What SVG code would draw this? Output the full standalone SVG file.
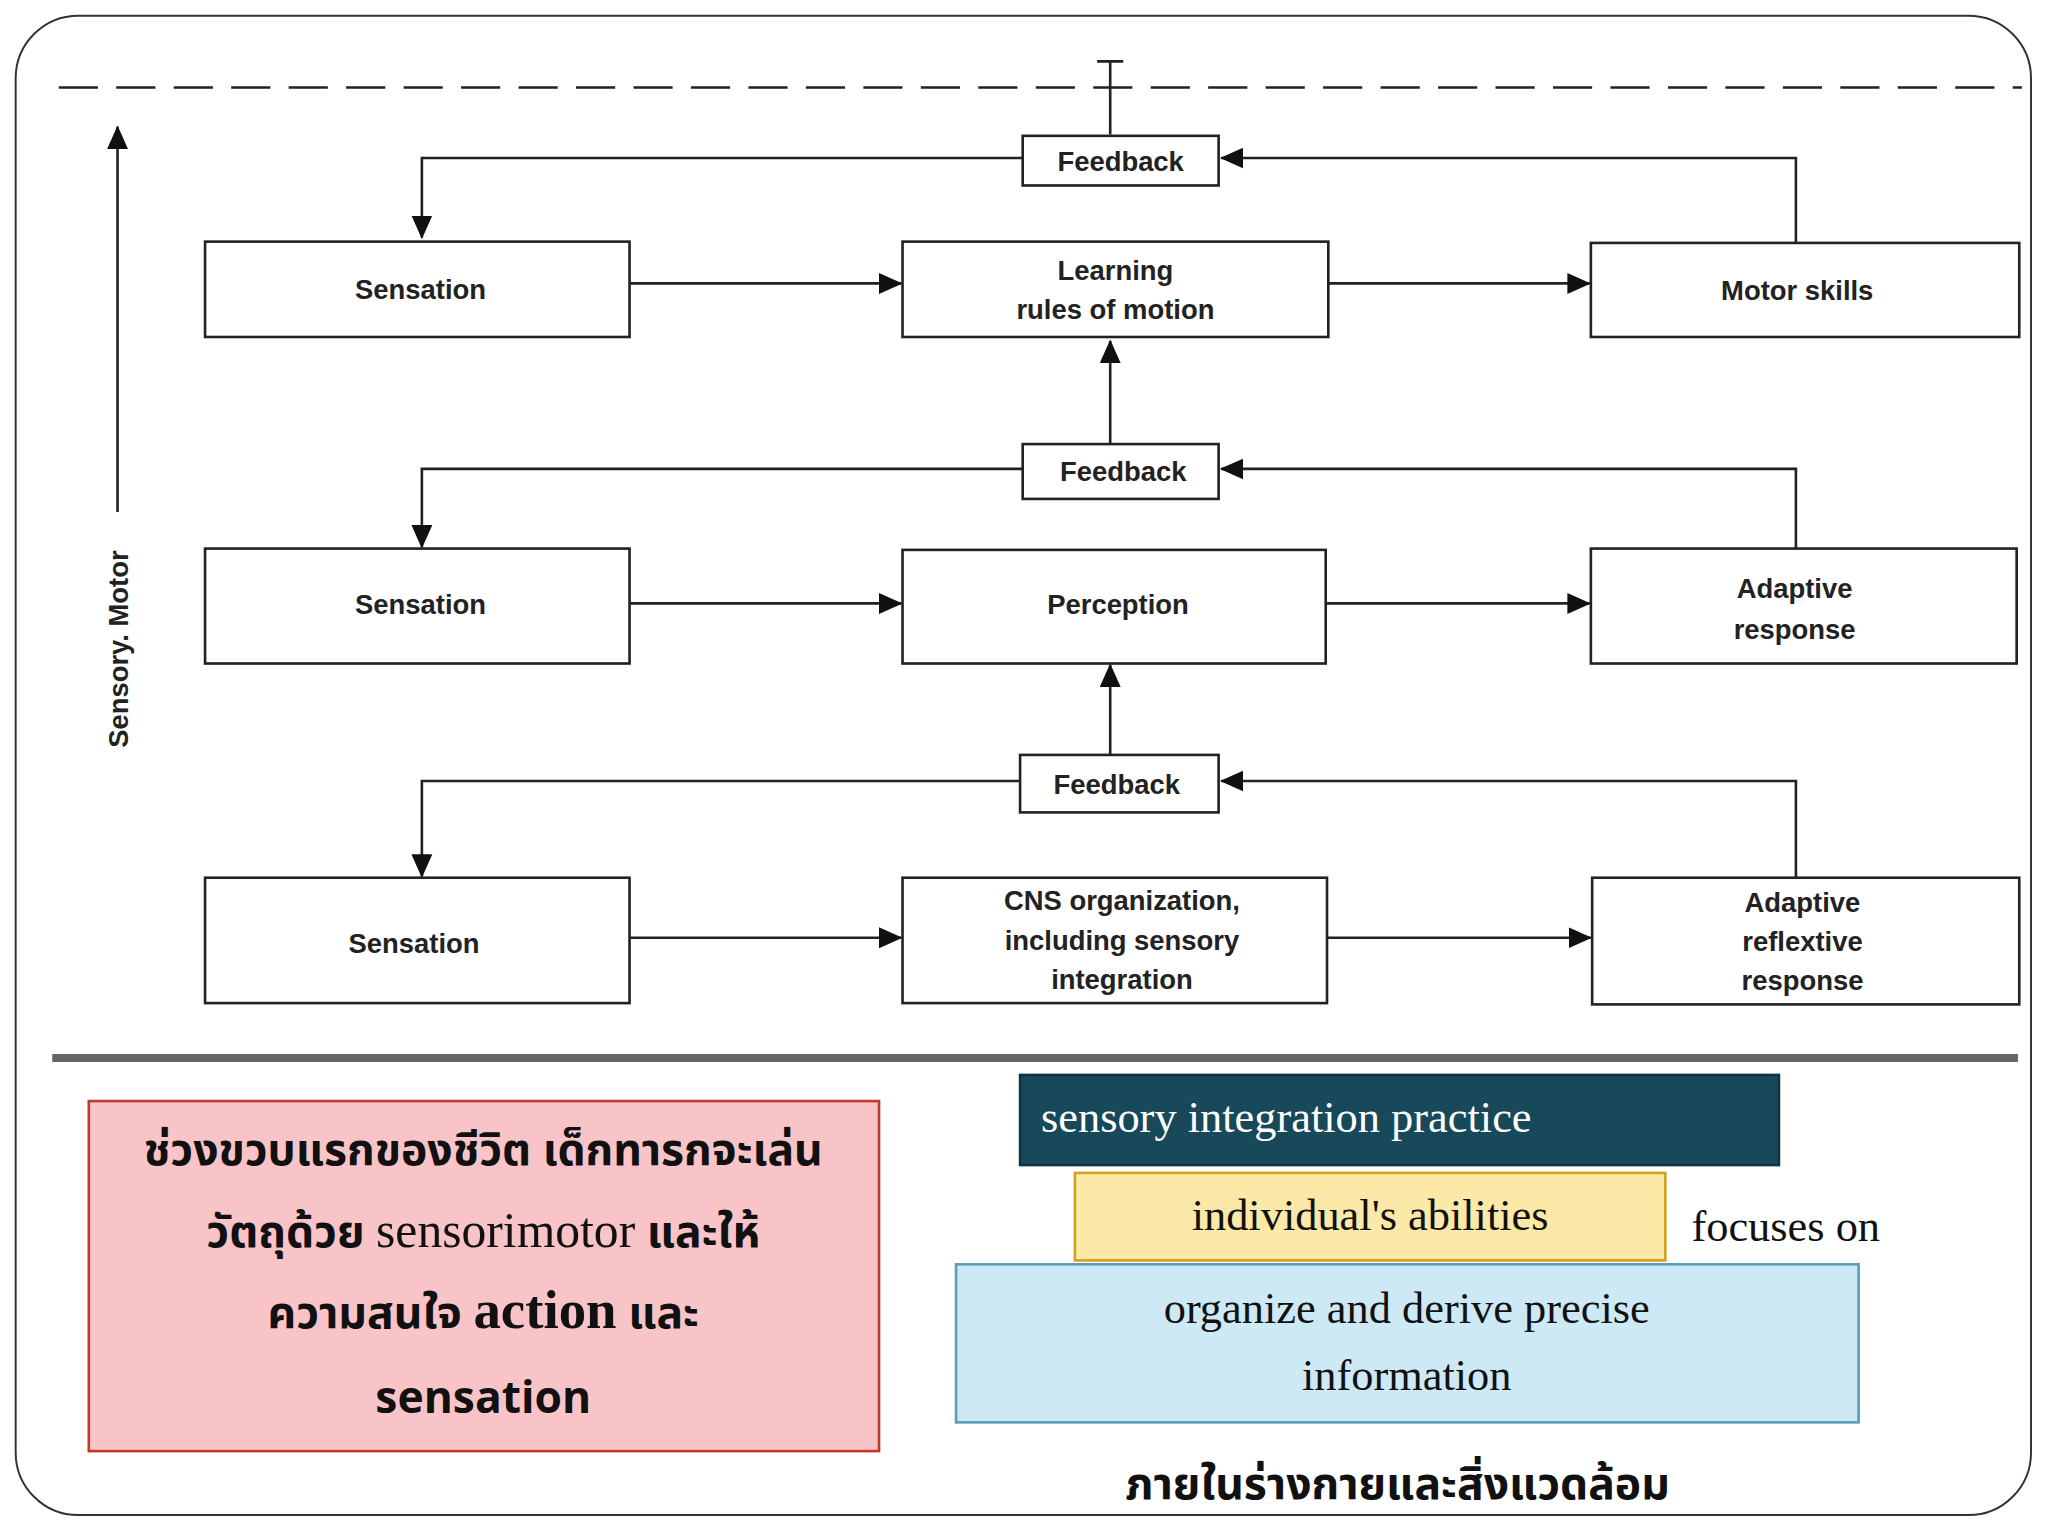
<svg xmlns="http://www.w3.org/2000/svg" width="2048" height="1536" viewBox="0 0 2048 1536">
<defs>
<marker id="ah" markerWidth="10" markerHeight="10" refX="9" refY="5" orient="auto" markerUnits="userSpaceOnUse"><path d="M0,0 L10,5 L0,10 z" fill="#111"/></marker>
<marker id="ah2" markerWidth="18" markerHeight="18" refX="17" refY="9" orient="auto" markerUnits="userSpaceOnUse"><path d="M0,1 L18,9 L0,17 z" fill="#111"/></marker>
<style>
.box{fill:#fff;stroke:#222;stroke-width:2}
.lbl{font-family:"Liberation Sans",Arial,sans-serif;font-weight:bold;font-size:21px;fill:#222;text-anchor:middle}
.c{fill:none;stroke:#222;stroke-width:2}
.ser{font-family:"Liberation Serif","Times New Roman",serif;font-size:34px;fill:#111}
.thai{font-family:"Noto Sans Thai","Noto Serif Thai","Loma","Garuda","Noto Sans",sans-serif;font-weight:bold;font-size:34px;fill:#111;text-anchor:middle}
</style>
</defs>
<rect width="2048" height="1536" fill="#fff"/>
<g transform="scale(1.30612)">
<rect x="12" y="12" width="1543" height="1148" rx="48" fill="none" stroke="#333" stroke-width="1.5"/>
<line x1="45" y1="67" x2="1548" y2="67" stroke="#222" stroke-width="2" stroke-dasharray="30,14"/>
<line x1="40" y1="810" x2="1545" y2="810" stroke="#666" stroke-width="6"/>
<g id="axis">
<line class="c" x1="90" y1="392" x2="90" y2="97" marker-end="url(#ah2)"/>
<text class="lbl" transform="translate(98,497) rotate(-90)">Sensory.  Motor</text>
</g>
<g id="connectors">
<path class="c" d="M850,103 V47 M840,47 H860"/>
<path class="c" d="M783,121 H323 V182" marker-end="url(#ah2)"/>
<path class="c" d="M1375,186 V121 H935" marker-end="url(#ah2)"/>
<path class="c" d="M783,359 H323 V419" marker-end="url(#ah2)"/>
<path class="c" d="M1375,420 V359 H935" marker-end="url(#ah2)"/>
<path class="c" d="M781,598 H323 V671" marker-end="url(#ah2)"/>
<path class="c" d="M1375,672 V598 H935" marker-end="url(#ah2)"/>
<path class="c" d="M850,340 V261" marker-end="url(#ah2)"/>
<path class="c" d="M850,578 V509" marker-end="url(#ah2)"/>
<path class="c" d="M482,217 H690" marker-end="url(#ah2)"/>
<path class="c" d="M1017,217 H1217" marker-end="url(#ah2)"/>
<path class="c" d="M482,462 H690" marker-end="url(#ah2)"/>
<path class="c" d="M1015,462 H1217" marker-end="url(#ah2)"/>
<path class="c" d="M482,718 H690" marker-end="url(#ah2)"/>
<path class="c" d="M1016,718 H1218" marker-end="url(#ah2)"/>
</g>
<g id="fb1"><rect class="box" x="783" y="104" width="150" height="38"/><text class="lbl" x="858" y="131">Feedback</text></g>
<g id="fb2"><rect class="box" x="783" y="340" width="150" height="42"/><text class="lbl" x="860" y="368">Feedback</text></g>
<g id="fb3"><rect class="box" x="781" y="578" width="152" height="44"/><text class="lbl" x="855" y="608">Feedback</text></g>
<g id="s1"><rect class="box" x="157" y="185" width="325" height="73"/><text class="lbl" x="322" y="229">Sensation</text></g>
<g id="learn"><rect class="box" x="691" y="185" width="326" height="73"/><text class="lbl" x="854" y="214">Learning</text><text class="lbl" x="854" y="244">rules of motion</text></g>
<g id="motor"><rect class="box" x="1218" y="186" width="328" height="72"/><text class="lbl" x="1376" y="230">Motor skills</text></g>
<g id="s2"><rect class="box" x="157" y="420" width="325" height="88"/><text class="lbl" x="322" y="470">Sensation</text></g>
<g id="perc"><rect class="box" x="691" y="421" width="324" height="87"/><text class="lbl" x="856" y="470">Perception</text></g>
<g id="adapt"><rect class="box" x="1218" y="420" width="326" height="88"/><text class="lbl" x="1374" y="458">Adaptive</text><text class="lbl" x="1374" y="489">response</text></g>
<g id="s3"><rect class="box" x="157" y="672" width="325" height="96"/><text class="lbl" x="317" y="730">Sensation</text></g>
<g id="cns"><rect class="box" x="691" y="672" width="325" height="96"/><text class="lbl" x="859" y="697">CNS organization,</text><text class="lbl" x="859" y="727">including sensory</text><text class="lbl" x="859" y="757">integration</text></g>
<g id="reflex"><rect class="box" x="1219" y="672" width="327" height="97"/><text class="lbl" x="1380" y="698">Adaptive</text><text class="lbl" x="1380" y="728">reflextive</text><text class="lbl" x="1380" y="758">response</text></g>
<g id="pink">
<rect x="68" y="843" width="605" height="268" fill="#f9c4c8" stroke="#c0392b" stroke-width="2"/>
<text class="thai" x="370" y="892">ช่วงขวบแรกของชีวิต เด็กทารกจะเล่น</text>
<text class="thai" x="370" y="955">วัตถุด้วย <tspan font-family="Liberation Serif,serif" font-weight="normal" font-size="38">sensorimotor</tspan> และให้</text>
<text class="thai" x="370" y="1017">ความสนใจ <tspan font-family="Liberation Serif,serif" font-size="42">action</tspan> และ</text>
<text class="thai" x="370" y="1082" font-family="Liberation Serif,serif" font-size="42">sensation</text>
</g>
<g id="teal"><rect x="781" y="823" width="581" height="69" fill="#17495a" stroke="#0e3440" stroke-width="2"/><text class="ser" x="797" y="867" fill="#fff" style="fill:#fff">sensory integration practice</text></g>
<g id="yellow"><rect x="823" y="898" width="452" height="67" fill="#fce9a8" stroke="#d4a020" stroke-width="2"/><text class="ser" x="1049" y="942" text-anchor="middle">individual's abilities</text></g>
<text class="ser" x="1295" y="950" font-size="30">focuses on</text>
<g id="blue"><rect x="732" y="968" width="691" height="121" fill="#cde9f5" stroke="#5a9fb5" stroke-width="2"/><text class="ser" x="1077" y="1013" text-anchor="middle">organize and derive precise</text><text class="ser" x="1077" y="1064" text-anchor="middle">information</text></g>
<text class="thai" x="1070" y="1148">ภายในร่างกายและสิ่งแวดล้อม</text>
</g>
</svg>
